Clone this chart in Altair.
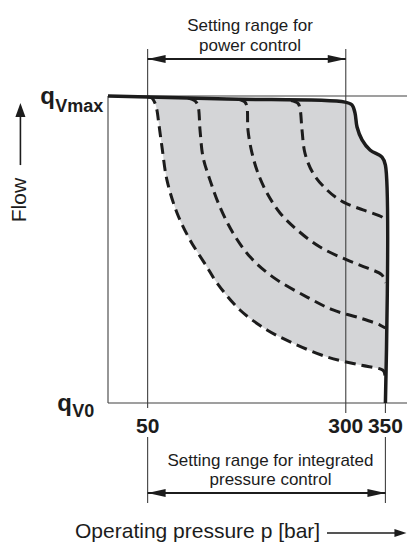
import altair as alt
import pandas as pd

# ---------------- data (pressure p in bar, flow as fraction of qVmax) ----------------
# outer envelope: qVmax line, bend at 300 bar, pressure cut-off at 350 bar
env_p = [0, 150, 299.0, 307.8, 311.6, 314.2, 320.5, 330.6, 345.7, 350, 350]
env_q = [1.0, 0.990, 0.980, 0.971, 0.945, 0.899, 0.857, 0.824, 0.801, 0.775, 0.0]

# power-control curves (dashed)
c1_p = [50, 55.5, 59.6, 62.0, 63.6, 68.1, 74.4, 87.1, 103.5, 124.9, 137.5, 166.5, 200.6, 233.4, 276.3, 317.9, 343.2, 347.9, 350]
c1_q = [0.997, 0.993, 0.975, 0.950, 0.920, 0.834, 0.726, 0.619, 0.531, 0.443, 0.391, 0.303, 0.238, 0.195, 0.150, 0.124, 0.111, 0.104, 0.075]

c2_p = [100.9, 109.8, 113.6, 116.1, 119.9, 128.7, 141.3, 157.7, 179.2, 208.2, 251.1, 283.9, 317.9, 343.2, 350]
c2_q = [0.993, 0.984, 0.967, 0.889, 0.801, 0.726, 0.638, 0.554, 0.476, 0.410, 0.345, 0.303, 0.277, 0.254, 0.244]

c3_p = [164.0, 172.8, 175.4, 176.6, 181.7, 189.2, 200.6, 217.0, 238.5, 267.5, 301.5, 326.8, 345.7, 350]
c3_q = [0.989, 0.980, 0.963, 0.889, 0.814, 0.749, 0.684, 0.619, 0.564, 0.508, 0.466, 0.440, 0.417, 0.391]

c4_p = [230.9, 239.7, 242.2, 244.8, 248.5, 258.6, 276.3, 296.5, 321.7, 345.7, 350]
c4_q = [0.985, 0.976, 0.960, 0.889, 0.814, 0.749, 0.694, 0.655, 0.629, 0.606, 0.596]

tick_values = [50, 300, 350]
tick_labels = ["50", "300", "350"]
power_range = [50, 300]
pressure_range = [50, 350]
top_title = ["Setting range for", "power control"]
bottom_title = ["Setting range for integrated", "pressure control"]
x_title = "Operating pressure p [bar]"
y_title = "Flow"
y_labels = ["q", "q"]
y_subs = ["Vmax", "V0"]

# ---------------- layout ----------------
W, H = 399, 534
X_DOM = [-126.17, 377.24]
Y_DOM = [-0.45277, 1.2866]
INK = "#1c1c1c"
THIN = "#404040"
FONT = "Liberation Sans"

xs = alt.Scale(domain=X_DOM, nice=False, zero=False)
ys = alt.Scale(domain=Y_DOM, nice=False, zero=False)


def X(f):
    return alt.X(f"{f}:Q", scale=xs, axis=None)


def Y(f):
    return alt.Y(f"{f}:Q", scale=ys, axis=None)


def pts(p, q, name=""):
    return pd.DataFrame({"p": p, "q": q, "i": range(len(p)), "curve": name, "base": 0.0})


# filled region between lowest power curve and envelope
gray = alt.Chart(pts(env_p[:-1], env_q[:-1])).mark_area(
    color="#d4d5d7", interpolate="catmull-rom", orient="vertical"
).encode(x=X("p"), y=Y("q"), y2=alt.Y2("base"))

white = alt.Chart(pts([0] + c1_p, [1.0] + c1_q)).mark_area(
    color="white", interpolate="catmull-rom", orient="vertical"
).encode(x=X("p"), y=Y("q"), y2=alt.Y2("base"))

# thin frame / reference lines
thin_rows = [
    (0, 0, 0, 1.0),
    (0, X_DOM[1], 0, 0),
    (0, X_DOM[1], 1.0, 1.0),
    (power_range[0], power_range[0], 1.153, -0.0163),
    (pressure_range[0], pressure_range[0], -0.1107, -0.3257),
    (power_range[1], power_range[1], 1.153, -0.0326),
    (pressure_range[1], pressure_range[1], 0, -0.0326),
    (pressure_range[1], pressure_range[1], -0.1107, -0.3257),
]
thin_df = pd.DataFrame(thin_rows, columns=["x1", "x2", "y1", "y2"])
thin = alt.Chart(thin_df).mark_rule(color=THIN, strokeWidth=1.1).encode(
    x=X("x1"), x2=alt.X2("x2"), y=Y("y1"), y2=alt.Y2("y2")
)

curves = pd.concat([
    pts(c1_p, c1_q, "c1"), pts(c2_p, c2_q, "c2"), pts(c3_p, c3_q, "c3"), pts(c4_p, c4_q, "c4")
])
dashed = alt.Chart(curves).mark_line(
    color=INK, strokeWidth=3, strokeDash=[11, 6], interpolate="catmull-rom"
).encode(x=X("p"), y=Y("q"), detail="curve:N", order="i:Q")

envelope = alt.Chart(pts(env_p, env_q)).mark_line(
    color=INK, strokeWidth=3.5, interpolate="catmull-rom", strokeJoin="round"
).encode(x=X("p"), y=Y("q"), order="i:Q")

# brackets and arrows
br_rows = [
    (power_range[0], power_range[1], 1.1205, 1.1205, 2),
    (pressure_range[0], pressure_range[1], -0.293, -0.293, 2),
    (-110.5, -110.5, 0.775, 0.955, 1.6),
    (276.3, 370.0, -0.4235, -0.4235, 1.6),
]
br_df = pd.DataFrame(br_rows, columns=["x1", "x2", "y1", "y2", "w"])
brackets = alt.Chart(br_df).mark_rule(color=INK).encode(
    x=X("x1"), x2=alt.X2("x2"), y=Y("y1"), y2=alt.Y2("y2"),
    strokeWidth=alt.StrokeWidth("w:Q", scale=None)
)

HEAD_L = "M0,0L-2,-0.45L-2,0.45Z"
HEAD_F = "M0,0L-2,-0.72L-2,0.72Z"
HEAD_P = "M0,0L-2,-0.65L-2,0.65Z"
head_rows = [
    (power_range[0], 1.1205, 180, HEAD_L, 324),
    (power_range[1], 1.1205, 0, HEAD_L, 324),
    (pressure_range[0], -0.293, 180, HEAD_L, 324),
    (pressure_range[1], -0.293, 0, HEAD_L, 324),
    (-110.5, 0.977, 270, HEAD_F, 196),
    (376.5, -0.4235, 0, HEAD_P, 144),
]
head_df = pd.DataFrame(head_rows, columns=["x", "y", "ang", "shape", "sz"])
heads = alt.Chart(head_df).mark_point(filled=True, opacity=1, color=INK, strokeWidth=0).encode(
    x=X("x"), y=Y("y"),
    angle=alt.Angle("ang:Q", scale=None),
    shape=alt.Shape("shape:N", scale=None),
    size=alt.Size("sz:Q", scale=None),
)

# texts
range_txt = pd.DataFrame({
    "x": [179.2, 179.2, 205.0, 205.0],
    "y": [1.2117, 1.1466, -0.2036, -0.2655],
    "t": top_title + bottom_title,
})
range_text = alt.Chart(range_txt).mark_text(
    font=FONT, fontSize=17, color=INK, align="center", baseline="alphabetic"
).encode(x=X("x"), y=Y("y"), text="t:N")

xt = alt.Chart(pd.DataFrame({"x": [-41.6], "y": [-0.4397], "t": [x_title]})).mark_text(
    font=FONT, fontSize=21, color=INK, align="left", baseline="alphabetic"
).encode(x=X("x"), y=Y("y"), text="t:N")

yt = alt.Chart(pd.DataFrame({"x": [-110.5], "y": [0.661], "t": [y_title]})).mark_text(
    font=FONT, fontSize=21, color=INK, align="center", baseline="middle", angle=270
).encode(x=X("x"), y=Y("y"), text="t:N")

ticks = alt.Chart(pd.DataFrame({"x": tick_values, "y": -0.0967, "t": tick_labels})).mark_text(
    font=FONT, fontSize=21, fontWeight="bold", color=INK, align="center", baseline="alphabetic"
).encode(x=X("x"), y=Y("y"), text="t:N")

qlab = alt.Chart(pd.DataFrame({"x": [-66.9, -45.4], "y": [0.974, -0.026], "t": y_labels})).mark_text(
    font=FONT, fontSize=24, fontWeight="bold", color=INK, align="right", baseline="alphabetic"
).encode(x=X("x"), y=Y("y"), text="t:N")

qsub = alt.Chart(pd.DataFrame({"x": [-66.5, -45.0], "y": [0.948, -0.046], "t": y_subs})).mark_text(
    font=FONT, fontSize=18, fontWeight="bold", color=INK, align="left", baseline="alphabetic"
).encode(x=X("x"), y=Y("y"), text="t:N")

chart = alt.layer(
    gray, white, thin, dashed, envelope, brackets, heads,
    range_text, xt, yt, ticks, qlab, qsub
).properties(
    width=W, height=H, padding=0, autosize=alt.AutoSizeParams(type="none"), background="white"
).configure_view(stroke=None)

chart.save("out.html", embed_options={"renderer": "svg", "actions": False})
